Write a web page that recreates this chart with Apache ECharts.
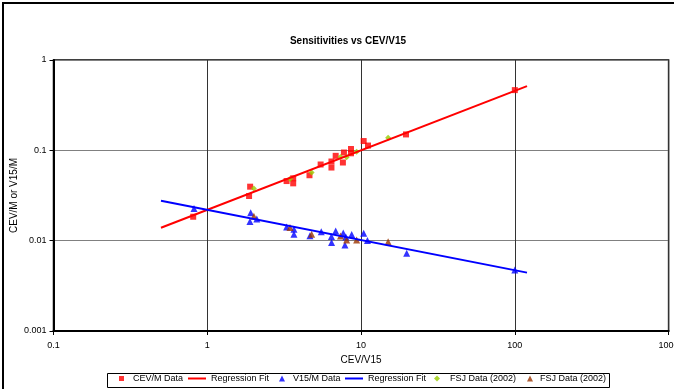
<!DOCTYPE html>
<html>
<head>
<meta charset="utf-8">
<script src="https://cdn.jsdelivr.net/npm/echarts@6/dist/echarts.min.js"></script>
<style>
  html, body { margin: 0; padding: 0; background: #fff; overflow: hidden; }
  #chart { width: 674px; height: 389px; }
</style>
</head>
<body>
<div id="chart"></div>
<script>
// Measured sensitivities against the CEV/V15 ratio
const cevX = [0.81, 1.9, 1.87, 3.28, 3.62, 3.62, 4.62, 5.46, 6.42, 6.42, 6.84, 7.74, 7.62, 8.6, 8.6, 10.4, 11.1, 19.6, 100];
const cevY = [0.0184, 0.0396, 0.0312, 0.0457, 0.049, 0.0431, 0.053, 0.0697, 0.0752, 0.0645, 0.0869, 0.0946, 0.0733, 0.1034, 0.0927, 0.1267, 0.113, 0.150, 0.464];

const v15X = [0.82, 1.915, 1.895, 2.10, 3.28, 3.66, 3.66, 4.65, 5.51, 6.42, 6.43, 6.84, 7.66, 7.86, 7.97, 8.69, 10.4, 11.0, 19.8, 100];
const v15Y = [0.0227, 0.0204, 0.0163, 0.0174, 0.0142, 0.0134, 0.0118, 0.0113, 0.01254, 0.01113, 0.00955, 0.0128, 0.01217, 0.00897, 0.011, 0.01172, 0.01207, 0.01005, 0.00726, 0.00474];

// FSJ (2002) reference measurements
const fsjX = [2.01, 3.45, 4.77, 7.35, 8.06, 9.36, 15.0];
const fsjCevY = [0.0378, 0.0481, 0.0568, 0.0843, 0.0837, 0.0965, 0.138];
const fsjV15Y = [0.0186, 0.0140, 0.01177, 0.01127, 0.0102, 0.0102, 0.00975];

// Power-law regression fits (end points of each fitted line)
const cevFitX = [0.5, 120];
const cevFitY = [0.0139, 0.513];
const v15FitX = [0.5, 120];
const v15FitY = [0.0276, 0.00443];

// Axis tick labels
const xTicks = ['0.1', '1', '10', '100', '1000'];
const yTicks = ['0.001', '0.01', '0.1', '1'];

const pairs = (xs, ys) => xs.map((x, i) => [x, ys[i]]);
const FONT = 'Arial, "Liberation Sans", sans-serif';

const chart = echarts.init(document.getElementById('chart'), null, { renderer: 'canvas' });

function legendItem(left, name, label, width, height, pad, icon) {
  return {
    left: left, top: 374, padding: 0, itemGap: 0,
    itemWidth: width, itemHeight: height,
    data: [icon ? { name: name, icon: icon } : name], selectedMode: false,
    formatter: label,
    textStyle: { fontFamily: FONT, fontSize: 9, color: '#000', padding: [0, 0, 0, pad] }
  };
}

chart.setOption({
  animation: false,
  backgroundColor: '#fff',
  title: {
    text: 'Sensitivities vs CEV/V15',
    left: 343, top: 31, textAlign: 'center',
    textStyle: { fontFamily: FONT, fontSize: 10, fontWeight: 'bold', color: '#000' }
  },
  grid: {
    left: 53.5, top: 60, right: 5.4, bottom: 58,
    outerBoundsMode: 'none', containLabel: false,
    show: true, borderColor: '#000', borderWidth: 1.5, backgroundColor: '#fff'
  },
  xAxis: {
    type: 'log', logBase: 10, min: 0.1, max: 1000,
    name: 'CEV/V15', nameLocation: 'middle', nameGap: 21,
    nameTextStyle: { fontFamily: FONT, fontSize: 10, color: '#000' },
    axisLine: { show: true, lineStyle: { color: '#000', width: 2 } },
    axisTick: { show: true, length: 4, lineStyle: { color: '#000' } },
    minorTick: { show: false },
    axisLabel: {
      fontFamily: FONT, fontSize: 9, color: '#000', margin: 10,
      hideOverlap: false, showMaxLabel: true,
      formatter: (v, i) => xTicks[i]
    },
    splitLine: { show: true, lineStyle: { color: '#333', width: 1 } }
  },
  yAxis: {
    type: 'log', logBase: 10, min: 0.001, max: 1,
    name: 'CEV/M or V15/M', nameLocation: 'middle', nameGap: 34,
    nameMoveOverlap: false,
    nameTextStyle: { fontFamily: FONT, fontSize: 10, color: '#000' },
    axisLine: { show: true, lineStyle: { color: '#000', width: 2 } },
    axisTick: { show: true, length: 4, lineStyle: { color: '#000' } },
    minorTick: { show: false },
    axisLabel: {
      fontFamily: FONT, fontSize: 9, color: '#000', margin: 7,
      formatter: (v, i) => yTicks[i]
    },
    splitLine: { show: true, lineStyle: { color: '#808080', width: 1 } }
  },
  legend: [
    legendItem(119, 'CEV/M Data', '{name}', 5, 5, 4),
    legendItem(188, 'CEV/M Fit', 'Regression Fit', 18, 2, 0, 'rect'),
    legendItem(279, 'V15/M Data', '{name}', 6, 6, 3),
    legendItem(345, 'V15/M Fit', 'Regression Fit', 18, 2, 0, 'rect'),
    legendItem(434, 'FSJ CEV/M', 'FSJ Data (2002)', 6, 6, 5),
    legendItem(527, 'FSJ V15/M', 'FSJ Data (2002)', 6, 6, 2)
  ],
  graphic: [
    {
      type: 'rect', silent: true, z: 100,
      shape: { x: 3, y: 3, width: 800, height: 500 },
      style: { fill: 'none', stroke: '#000', lineWidth: 2 }
    },
    {
      type: 'rect', silent: true, z: 100,
      shape: { x: 107.5, y: 373.5, width: 502, height: 14 },
      style: { fill: 'none', stroke: '#000', lineWidth: 1 }
    }
  ],
  series: [
    {
      name: 'CEV/M Data', type: 'scatter', symbol: 'rect', symbolSize: 6,
      itemStyle: { color: '#FF0000' }, data: pairs(cevX, cevY)
    },
    {
      name: 'CEV/M Fit', type: 'line', symbol: 'none',
      lineStyle: { color: '#FF0000', width: 2 }, itemStyle: { color: '#FF0000' },
      data: pairs(cevFitX, cevFitY)
    },
    {
      name: 'V15/M Data', type: 'scatter', symbol: 'triangle', symbolSize: 7,
      itemStyle: { color: '#0000FF' }, data: pairs(v15X, v15Y)
    },
    {
      name: 'V15/M Fit', type: 'line', symbol: 'none',
      lineStyle: { color: '#0000FF', width: 2 }, itemStyle: { color: '#0000FF' },
      data: pairs(v15FitX, v15FitY)
    },
    {
      name: 'FSJ CEV/M', type: 'scatter', symbol: 'diamond', symbolSize: 6,
      itemStyle: { color: '#99CC00' }, data: pairs(fsjX, fsjCevY)
    },
    {
      name: 'FSJ V15/M', type: 'scatter', symbol: 'triangle', symbolSize: 7,
      itemStyle: { color: '#993300' }, data: pairs(fsjX, fsjV15Y)
    }
  ]
});
</script>
</body>
</html>
